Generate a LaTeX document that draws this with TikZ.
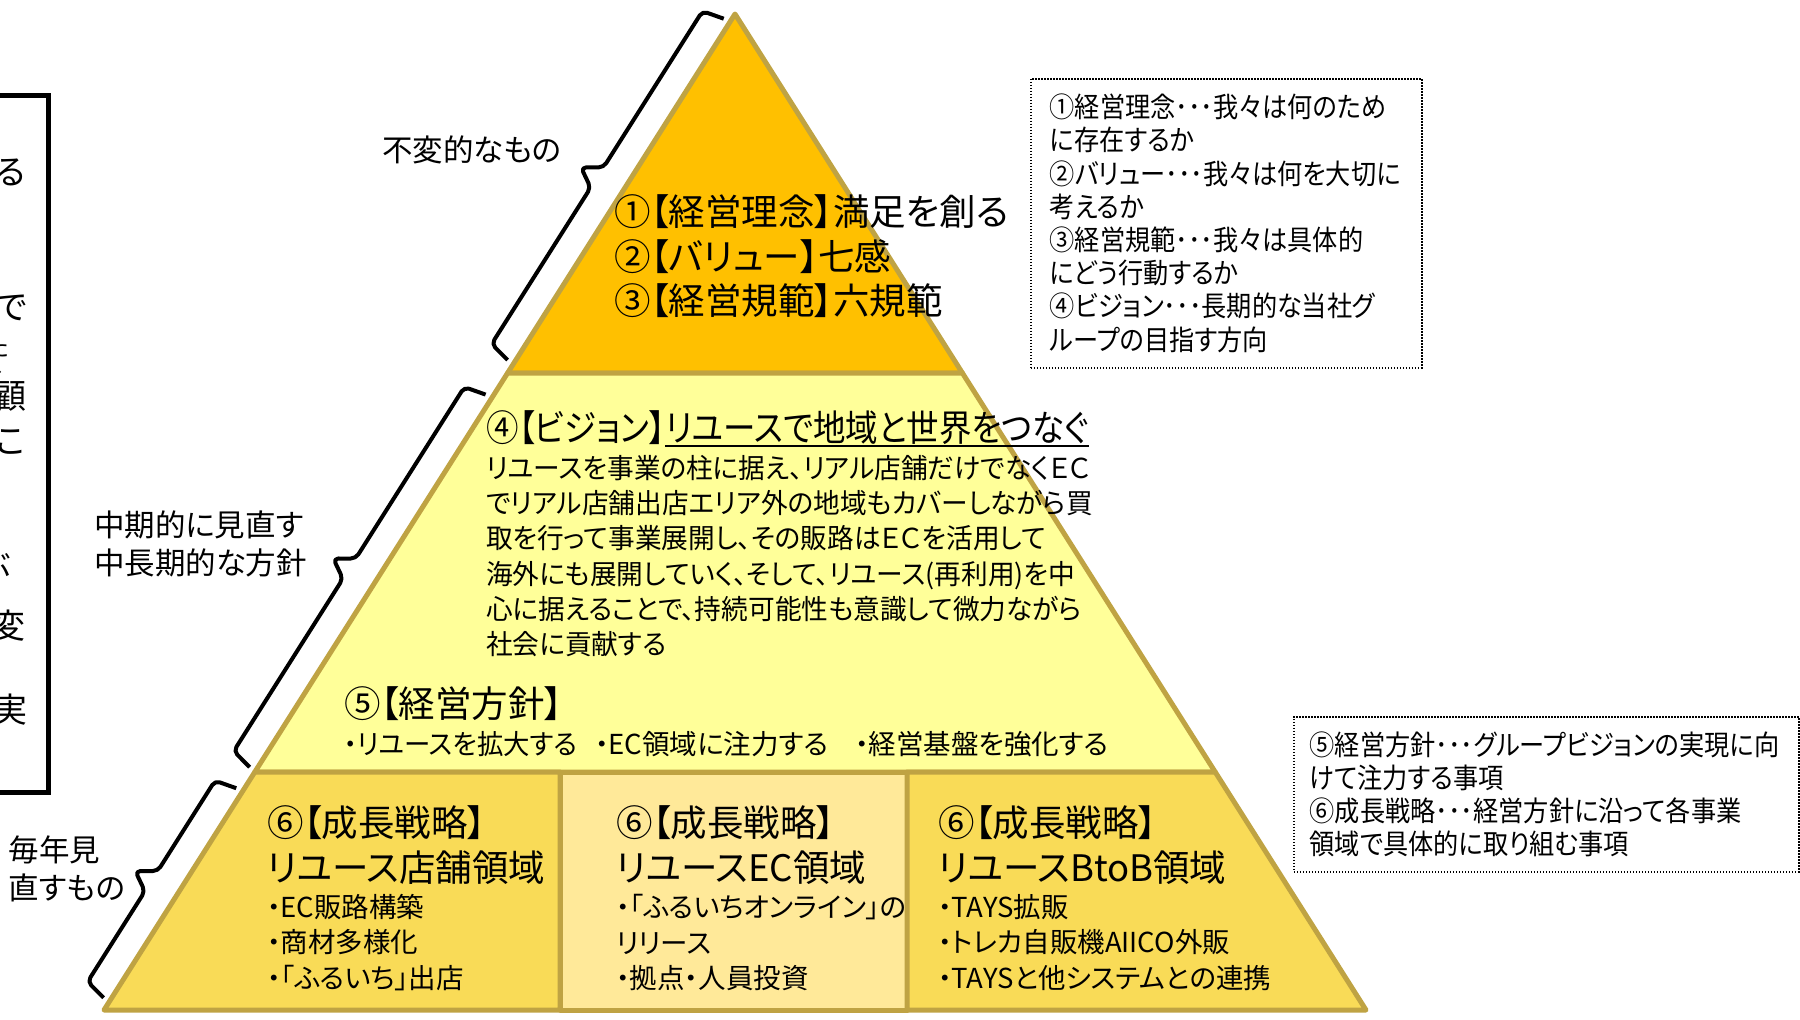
\documentclass[tikz,border=0pt]{standalone}
\usepackage{fontspec}
\setmainfont{Noto Sans CJK JP}[RawFeature=+palt]
\newfontfamily\notefam{Noto Sans CJK JP}[RawFeature=+palt, FakeStretch=0.9]
\definecolor{goldline}{RGB}{191,163,67}
\definecolor{tierA}{RGB}{255,192,0}
\definecolor{tierB}{RGB}{255,255,153}
\definecolor{tierC}{RGB}{249,219,87}
\definecolor{tierD}{RGB}{255,233,153}
\tikzset{
  tier/.style={draw=goldline, line width=5pt, line join=round},
  bracestyle/.style={draw=black, line width=4pt, rounded corners=5pt, line join=round},
  txt/.style={inner sep=0pt, outer sep=0pt, anchor=west, align=left, text=black},
  bigfont/.style={font=\fontsize{36.5}{44.5}\selectfont},
  bodyfont/.style={font=\fontsize{27.5}{35.2}\selectfont},
  itemfont/.style={font=\fontsize{27.5}{35.5}\selectfont},
  labfont/.style={font=\fontsize{30.5}{38}\selectfont},
  notefont/.style={font=\notefam\fontsize{28}{33.2}\selectfont},
  frag/.style={inner sep=0pt, outer sep=0pt, anchor=east, font=\fontsize{34}{40}\selectfont},
  notebox/.style={draw=black, line width=1.5pt, dash pattern=on 1.5pt off 1.5pt,
    inner sep=0pt, align=left, anchor=north west}
}
\begin{document}
\begin{tikzpicture}[x=1pt,y=-1pt]
\useasboundingbox (0,0) rectangle (1800,1020);
% pyramid corners
\coordinate (apex) at (735,14);
\coordinate (t1L) at (507.6,373);
\coordinate (t1R) at (962.4,373);
\coordinate (t2L) at (254.8,772);
\coordinate (t2R) at (1215.2,772);
\coordinate (bL) at (104,1010);
\coordinate (bR) at (1366,1010);
\coordinate (d1T) at (560,772);
\coordinate (d1B) at (560,1010);
\coordinate (d2T) at (907,772);
\coordinate (d2B) at (907,1010);
% tiers
\filldraw[tier, fill=tierA] (apex) -- (t1R) -- (t1L) -- cycle;
\filldraw[tier, fill=tierB] (t1L) -- (t1R) -- (t2R) -- (t2L) -- cycle;
\filldraw[tier, fill=tierC] (t2L) -- (d1T) -- (d1B) -- (bL) -- cycle;
\filldraw[tier, fill=tierD] (d1T) -- (d2T) -- (d2B) -- (d1B) -- cycle;
\filldraw[tier, fill=tierC] (d2T) -- (t2R) -- (bR) -- (d2B) -- cycle;
% braces along the left edge
\begin{scope}[shift={(735,14)}, x={(-0.5351pt,-0.8447pt)}, y={(-0.8447pt,0.5351pt)}]
  \draw[bracestyle] (10,7) -- (15,29) -- (200,29) -- (212,48) -- (224,29) -- (409,29) -- (414,7);
  \draw[bracestyle] (455,7) -- (460,29) -- (663,29) -- (675,48) -- (687,29) -- (891,29) -- (896,7);
  \draw[bracestyle] (921,7) -- (926,29) -- (1033,29) -- (1045,48) -- (1057,29) -- (1164,29) -- (1169,7);
\end{scope}
% labels of braces
\node[txt, labfont] (labA) at (382,150) {不変的なもの};
\node[txt, labfont] (labB) at (94,544) {中期的に見直す\\中長期的な方針};
\node[txt, labfont] (labC) at (9,869) {毎年見\\直すもの};
% top tier
\node[txt, bigfont] (topT) at (614,256.5) {①【経営理念】満足を創る\\②【バリュー】七感\\③【経営規範】六規範};
% vision
\node[txt, bigfont, xscale=0.89] (visA) at (486,428) {④【ビジョン】};
\node[txt, bigfont, xscale=0.89] (visB) at (visA.east) {リユースで地域と世界をつなぐ};
\draw[line width=2pt] ([yshift=-1.5pt]visB.south west) -- ([yshift=-1.5pt]visB.south east);
\node[txt, bodyfont, xscale=0.97] (visBody) at (486,556) {リユースを事業の柱に据え、リアル店舗だけでなくＥＣ\\でリアル店舗出店エリア外の地域もカバーしながら買\\取を行って事業展開し、その販路はＥＣを活用して\\海外にも展開していく、そして、リユース(再利用)を中\\心に据えることで、持続可能性も意識して微力ながら\\社会に貢献する};
% policy
\node[txt, bigfont] (polT) at (344,704) {⑤【経営方針】};
\node[txt, itemfont, xscale=0.96] (polA) at (344,744) {・リユースを拡大する};
\node[txt, itemfont] (polB) at (595,744) {・EC領域に注力する};
\node[txt, itemfont] (polC) at (855,744) {・経営基盤を強化する};
% growth strategies
\node[txt, bigfont] (gLT) at (267,845) {⑥【成長戦略】\\リユース店舗領域};
\node[txt, itemfont] (gLI) at (267,942.5) {・EC販路構築\\・商材多様化\\・「ふるいち」出店};
\node[txt, bigfont] (gMT) at (616,845) {⑥【成長戦略】\\リユースEC領域};
\node[txt, itemfont] (gMI) at (616,942.5) {・「ふるいちオンライン」の\\リリース\\・拠点・人員投資};
\node[txt, bigfont] (gRT) at (938,845) {⑥【成長戦略】\\リユースBtoB領域};
\node[txt, itemfont] (gRI) at (938,942.5) {・TAYS拡販\\・トレカ自販機AIICO外販\\・TAYSと他システムとの連携};
% notes
\node[notebox, notefont, minimum width=391pt, minimum height=289pt, text width=353pt, inner xsep=19pt] (note1) at (1030,78)
  {①経営理念･･･我々は何のため\\に存在するか\\②バリュー･･･我々は何を大切に\\考えるか\\③経営規範･･･我々は具体的\\にどう行動するか\\④ビジョン･･･長期的な当社グ\\ループの目指す方向};
\node[notebox, notefont, minimum width=505pt, minimum height=155pt, text width=473pt, inner xsep=16pt] (note2) at (1293,716)
  {⑤経営方針･･･グループビジョンの実現に向\\けて注力する事項\\⑥成長戦略･･･経営方針に沿って各事業\\領域で具体的に取り組む事項};
% left frame (cut off)
\draw[line width=5pt] (-10,95) -- (48,95) -- (48,792) -- (-10,792);
\node[frag] (fr1) at (26,172) {る};
\node[frag] (fr2) at (27,308) {で};
\node[frag, font=\fontsize{24}{28}\selectfont] (fr3) at (9,347) {た};
\node[frag, font=\fontsize{24}{28}\selectfont] (fr4) at (6,370) {、};
\node[frag] (fr5) at (26,396) {顧};
\node[frag] (fr6) at (25,442) {こ};
\node[frag] (fr7) at (11,565) {ぶ};
\node[frag] (fr8) at (25,626) {変};
\node[frag] (fr9) at (28,710) {実};
\end{tikzpicture}
\end{document}
